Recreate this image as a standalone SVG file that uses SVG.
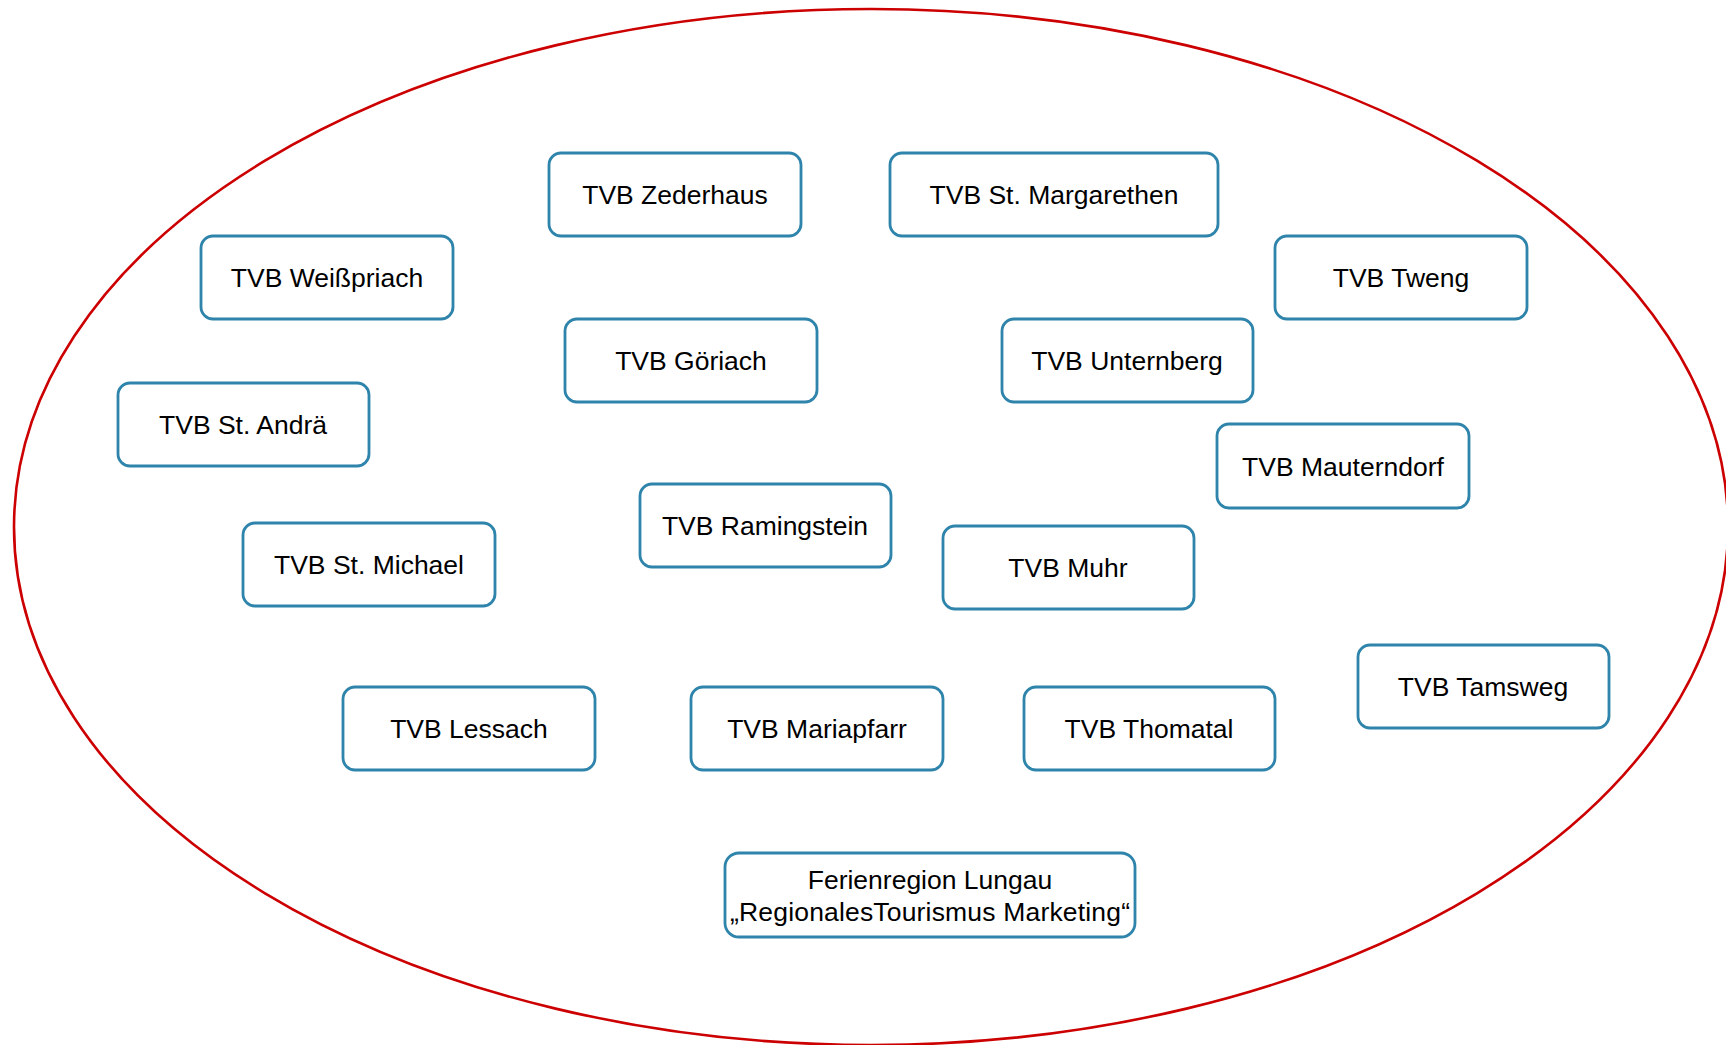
<svg xmlns="http://www.w3.org/2000/svg" width="1726" height="1045" viewBox="0 0 1726 1045">
<style>
.n rect{fill:#fff;stroke:#2E84AB;stroke-width:2.8}
.n text{font-family:"Liberation Sans",Arial,sans-serif;font-size:26.5px;fill:#000;text-anchor:middle}
</style>
<rect width="1726" height="1045" fill="#fff"/>
<ellipse id="region" cx="871" cy="527" rx="857" ry="518" fill="none" stroke="#CC0000" stroke-width="2.6"/>
<g id="connectors"/>
<g id="zederhaus" class="n"><rect x="549" y="153" width="252" height="83" rx="12"/><text x="675" y="204">TVB Zederhaus</text></g>
<g id="margarethen" class="n"><rect x="890" y="153" width="328" height="83" rx="12"/><text x="1054" y="204">TVB St. Margarethen</text></g>
<g id="weisspriach" class="n"><rect x="201" y="236" width="252" height="83" rx="12"/><text x="327" y="287">TVB Weißpriach</text></g>
<g id="tweng" class="n"><rect x="1275" y="236" width="252" height="83" rx="12"/><text x="1401" y="287">TVB Tweng</text></g>
<g id="goriach" class="n"><rect x="565" y="319" width="252" height="83" rx="12"/><text x="691" y="370">TVB Göriach</text></g>
<g id="unternberg" class="n"><rect x="1002" y="319" width="251" height="83" rx="12"/><text x="1127" y="370">TVB Unternberg</text></g>
<g id="andra" class="n"><rect x="118" y="383" width="251" height="83" rx="12"/><text x="243" y="434">TVB St. Andrä</text></g>
<g id="mauterndorf" class="n"><rect x="1217" y="424" width="252" height="84" rx="12"/><text x="1343" y="476">TVB Mauterndorf</text></g>
<g id="ramingstein" class="n"><rect x="640" y="484" width="251" height="83" rx="12"/><text x="765" y="535">TVB Ramingstein</text></g>
<g id="michael" class="n"><rect x="243" y="523" width="252" height="83" rx="12"/><text x="369" y="574">TVB St. Michael</text></g>
<g id="muhr" class="n"><rect x="943" y="526" width="251" height="83" rx="12"/><text x="1068" y="577">TVB Muhr</text></g>
<g id="tamsweg" class="n"><rect x="1358" y="645" width="251" height="83" rx="12"/><text x="1483" y="696">TVB Tamsweg</text></g>
<g id="lessach" class="n"><rect x="343" y="687" width="252" height="83" rx="12"/><text x="469" y="738">TVB Lessach</text></g>
<g id="mariapfarr" class="n"><rect x="691" y="687" width="252" height="83" rx="12"/><text x="817" y="738">TVB Mariapfarr</text></g>
<g id="thomatal" class="n"><rect x="1024" y="687" width="251" height="83" rx="12"/><text x="1149" y="738">TVB Thomatal</text></g>
<g id="ferienregion" class="n"><rect x="725" y="853" width="410" height="84" rx="14"/><text x="930" y="889">Ferienregion Lungau</text><text x="930" y="921" textLength="400" lengthAdjust="spacing">„RegionalesTourismus Marketing“</text></g>
</svg>
